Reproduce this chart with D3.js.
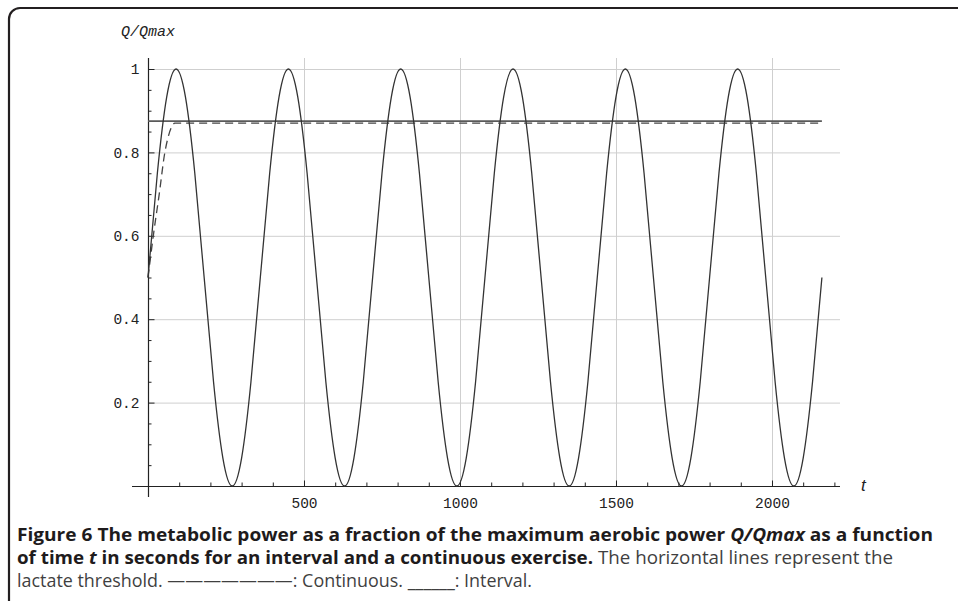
<!DOCTYPE html>
<html><head><meta charset="utf-8">
<script src="https://cdn.jsdelivr.net/npm/d3@7"></script>
<style>body{margin:0;background:#fff}svg{display:block}</style>
</head><body><svg id="c" width="958" height="601"></svg>
<script>
// ---- data ----
const intervalTimes = [0,30,60,90,120,150,180,210,240,270,300,330,
  360,390,420,450,480,510,540,570,600,630,660,690,
  720,750,780,810,840,870,900,930,960,990,1020,1050,
  1080,1110,1140,1170,1200,1230,1260,1290,1320,1350,1380,1410,
  1440,1470,1500,1530,1560,1590,1620,1650,1680,1710,1740,1770,
  1800,1830,1860,1890,1920,1950,1980,2010,2040,2070,2100,2130,2160];
const intervalPower = [0.5,0.75,0.933,1,0.933,0.75,0.5,0.25,0.067,0,0.067,0.25,
  0.5,0.75,0.933,1,0.933,0.75,0.5,0.25,0.067,0,0.067,0.25,
  0.5,0.75,0.933,1,0.933,0.75,0.5,0.25,0.067,0,0.067,0.25,
  0.5,0.75,0.933,1,0.933,0.75,0.5,0.25,0.067,0,0.067,0.25,
  0.5,0.75,0.933,1,0.933,0.75,0.5,0.25,0.067,0,0.067,0.25,
  0.5,0.75,0.933,1,0.933,0.75,0.5,0.25,0.067,0,0.067,0.25,0.5];
const continuousThresholdTimes = [0,2160];
const continuousThresholdValues = [0.875,0.875];
const intervalThresholdTimes = [0,17,36,54,64,75,86,2160];
const intervalThresholdValues = [0.5,0.6,0.7,0.8,0.835,0.86,0.87,0.87];
const xMajorTicks = [500,1000,1500,2000];
const xMinorTicks = [100,200,300,400,600,700,800,900,1100,1200,1300,1400,1600,1700,1800,1900,2100,2200];
const yMajorTicks = [0.2,0.4,0.6,0.8,1];
const yTickLabels = ["0.2","0.4","0.6","0.8","1"];
const yMinorTicks = [0.05,0.1,0.15,0.25,0.3,0.35,0.45,0.5,0.55,0.65,0.7,0.75,0.85,0.9,0.95];
const yAxisTitle = "Q/Qmax";
const xAxisTitle = "t";

const svg = d3.select("#c");
const x = d3.scaleLinear().domain([0,2218]).range([148,840]);
const y = d3.scaleLinear().domain([0,1]).range([486,69]);
const monoFont = "'Liberation Mono', 'Courier New', monospace";

// frame
svg.append("path")
  .attr("d","M9,601 L9,19 A11,11 0 0 1 20,8 L958,8")
  .attr("fill","none").attr("stroke","#231f20").attr("stroke-width",2.2);

// grid
const grid = svg.append("g").attr("stroke","#cfcfcf").attr("stroke-width",1);
grid.selectAll("line.h").data(yMajorTicks).join("line")
  .attr("x1",x(0)).attr("x2",840).attr("y1",d=>y(d)+0.5).attr("y2",d=>y(d)+0.5);
grid.selectAll("line.v").data(xMajorTicks).join("line")
  .attr("y1",y(0)).attr("y2",58).attr("x1",d=>x(d)+0.5).attr("x2",d=>x(d)+0.5);

// axes lines
svg.append("line").attr("x1",132).attr("x2",840).attr("y1",y(0)+0.5).attr("y2",y(0)+0.5)
  .attr("stroke","#222").attr("stroke-width",1.2);
svg.append("line").attr("x1",x(0)+0.5).attr("x2",x(0)+0.5).attr("y1",497).attr("y2",58)
  .attr("stroke","#222").attr("stroke-width",1.2);

function styleAxis(g){
  g.select(".domain").remove();
  g.selectAll(".tick line").attr("stroke","#222");
  g.selectAll("text").attr("fill","#222").attr("font-family",monoFont).attr("font-size",14.5);
}
// y axis
svg.append("g").attr("transform",`translate(${x(0)+0.5},0)`)
  .call(d3.axisLeft(y).tickValues(yMajorTicks).tickSize(-6).tickPadding(9)
    .tickFormat((d,i)=>yTickLabels[i]))
  .call(styleAxis);
svg.append("g").attr("transform",`translate(${x(0)+0.5},0)`)
  .call(d3.axisLeft(y).tickValues(yMinorTicks).tickSize(-3).tickFormat(""))
  .call(styleAxis);
// x axis
svg.append("g").attr("transform",`translate(0,${y(0)+0.5})`)
  .call(d3.axisBottom(x).tickValues(xMajorTicks).tickSize(-6).tickPadding(11.5).tickFormat(d3.format("d")))
  .call(styleAxis);
svg.append("g").attr("transform",`translate(0,${y(0)+0.5})`)
  .call(d3.axisBottom(x).tickValues(xMinorTicks).tickSize(-4).tickFormat(""))
  .call(styleAxis);

// titles
svg.append("text").attr("x",121).attr("y",36).text(yAxisTitle)
  .attr("font-family",monoFont).attr("font-style","italic")
  .attr("font-size",15).attr("fill","#222");
svg.append("text").attr("x",861).attr("y",491).text(xAxisTitle)
  .attr("font-family","'Liberation Sans', sans-serif").attr("font-style","italic")
  .attr("font-size",17).attr("fill","#222");

// series
const line = d3.line().x(d=>x(d[0])).y(d=>y(d[1]));
svg.append("path")
  .datum(continuousThresholdTimes.map((t,i)=>[t,continuousThresholdValues[i]]))
  .attr("d",line).attr("fill","none").attr("stroke","#5a5a5a").attr("stroke-width",1.8);
svg.append("path")
  .datum(intervalThresholdTimes.map((t,i)=>[t,intervalThresholdValues[i]]))
  .attr("d",line.curve(d3.curveMonotoneX)).attr("fill","none").attr("stroke","#444")
  .attr("stroke-width",1.3).attr("stroke-dasharray","8,5");
svg.append("path")
  .datum(intervalTimes.map((t,i)=>[t,intervalPower[i]]))
  .attr("d",d3.line().x(d=>x(d[0])).y(d=>y(d[1])).curve(d3.curveNatural))
  .attr("fill","none").attr("stroke","#333").attr("stroke-width",1.3);

// caption
const cap = svg.append("g").attr("font-family","'Open Sans', sans-serif").attr("font-size",18.5);
function capLine(yPos, parts, width){
  const t = cap.append("text").attr("x",17).attr("y",yPos)
    .attr("textLength",width).attr("lengthAdjust","spacingAndGlyphs");
  parts.forEach(p=>{
    t.append("tspan").text(p[0])
      .attr("font-weight",p[1]?"bold":"normal")
      .attr("font-style",p[2]?"italic":"normal")
      .attr("fill",p[1]?"#1e1b1c":"#3f3f3f");
  });
}
capLine(541,[["Figure 6 The metabolic power as a fraction of the maximum aerobic power ",1,0],["Q/Qmax",1,1],[" as a function",1,0]],916);
capLine(564,[["of time ",1,0],["t",1,1],[" in seconds for an interval and a continuous exercise.",1,0],[" The horizontal lines represent the",0,0]],876);
capLine(587,[["lactate threshold. ———————: Continuous. ______: Interval.",0,0]],515);
</script></body></html>
